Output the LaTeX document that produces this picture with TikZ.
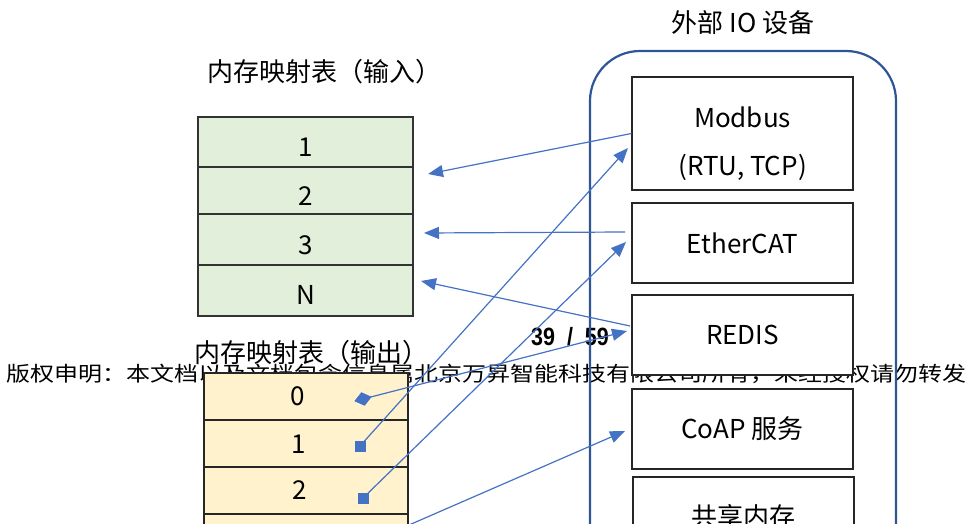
\documentclass[tikz,border=0pt]{standalone}
\usepackage{fontspec}
\setmainfont{Noto Sans CJK SC}
\newfontfamily\wmfont[FakeStretch=1.17]{Noto Sans CJK SC}
\newfontfamily\pgfont[FakeStretch=0.86]{Liberation Sans}
\usetikzlibrary{arrows.meta,shapes.geometric}
\definecolor{ingreen}{HTML}{E2EFDA}
\definecolor{outyellow}{HTML}{FFF2CC}
\definecolor{linkblue}{HTML}{4472C4}
\definecolor{frameblue}{HTML}{2F5597}
\tikzset{
  bigtext/.style={font=\fontsize{26}{30}\selectfont, inner sep=0pt},
  inrow/.style={draw=black!80, fill=ingreen, line width=1.2pt, minimum width=215pt, inner sep=0pt},
  outrow/.style={draw=black!85, fill=outyellow, line width=1.8pt, minimum width=204pt, minimum height=47pt, inner sep=0pt},
  devbox/.style={draw=black!85, fill=white, line width=1.2pt, minimum width=221pt, inner sep=0pt, font=\fontsize{26}{30}\selectfont},
  link/.style={draw=linkblue, line width=1.2pt, -{Triangle[length=15pt,width=12pt]}},
  sqmark/.style={fill=linkblue, minimum size=11pt, inner sep=0pt},
  diamark/.style={diamond, fill=linkblue, minimum width=18pt, minimum height=14pt, inner sep=0pt}
}
\begin{document}
\begin{tikzpicture}[x=1pt,y=-1pt]
\useasboundingbox (0,0) rectangle (967,524);
% background texts
\node[inner sep=0pt, font=\wmfont\fontsize{20.5}{24}\selectfont] (wm) at (486.5,374) {版权申明：本文档以及文档包含信息属北京万昇智能科技有限公司所有，未经授权请勿转发};
\node[inner sep=0pt, font=\pgfont\bfseries\fontsize{25}{28}\selectfont] (pg) at (570,337) {39\hspace{12pt}/\hspace{12pt}59};
% titles
\node[bigtext] (tin) at (324,72) {内存映射表（输入）};
\node[bigtext] (tout) at (311,353) {内存映射表（输出）};
\node[bigtext] (tdev) at (743,23) {外部 IO 设备};
% input table
\node[inrow, minimum height=50pt] (i1) at (305.5,142) {};
\node[inrow, minimum height=47pt] (i2) at (305.5,190.5) {};
\node[inrow, minimum height=51pt] (i3) at (305.5,239.5) {};
\node[inrow, minimum height=51pt] (iN) at (305.5,290.5) {};
\node[bigtext] (i1l) at (305.5,147) {1};
\node[bigtext] (i2l) at (305.5,196) {2};
\node[bigtext] (i3l) at (305.5,245) {3};
\node[bigtext] (iNl) at (305.5,295) {N};
% output table
\node[outrow] (o0) at (306,396.5) {};
\node[outrow] (o1) at (306,443.5) {};
\node[outrow] (o2) at (306,490.5) {};
\node[outrow] (o3) at (306,537.5) {};
\node[bigtext] (o0l) at (298,396.5) {0};
\node[bigtext] (o1l) at (299,444.5) {1};
\node[bigtext] (o2l) at (300,490.5) {2};
% device frame
\draw[frameblue, line width=2.2pt, rounded corners=50pt] (590,51) rectangle (896,720);
% device boxes
\node[devbox, minimum height=113pt] (modbus) at (742.5,133.5) {};
\node[bigtext] (modbusl1) at (742.5,117) {Modbus};
\node[bigtext] (modbusl2) at (742.5,167) {(RTU, TCP)};
\node[devbox, minimum height=80pt] (ecat) at (742.5,243) {EtherCAT};
\node[devbox, minimum height=80pt] (redis) at (742.5,335) {REDIS};
\node[devbox, minimum height=80pt] (coap) at (742.5,429) {CoAP 服务};
\node[devbox, minimum height=80pt] (shm) at (743.5,517) {共享内存};
% markers
\node[diamark, rotate=14] (m0) at (363,399) {};
\node[sqmark] (m1) at (360,446) {};
\node[sqmark] (m2) at (363,498) {};
\node[sqmark] (m3) at (363,545) {};
% coordinates
\coordinate (t1) at (428,174);
\coordinate (s2) at (625,232);
\coordinate (t2) at (424,233);
\coordinate (s3) at (630,326);
\coordinate (t3) at (421,281);
\coordinate (t4) at (627,331);
\coordinate (t5) at (628,148);
\coordinate (t6) at (626,242);
\coordinate (t7) at (625,431);
% links
\draw[link] (modbus.west) -- (t1);
\draw[link] (s2) -- (t2);
\draw[link] (s3) -- (t3);
\draw[link] (m0.center) -- (t4);
\draw[link] (m1.center) -- (t5);
\draw[link] (m2.center) -- (t6);
\draw[link] (m3.center) -- (t7);
\end{tikzpicture}
\end{document}
